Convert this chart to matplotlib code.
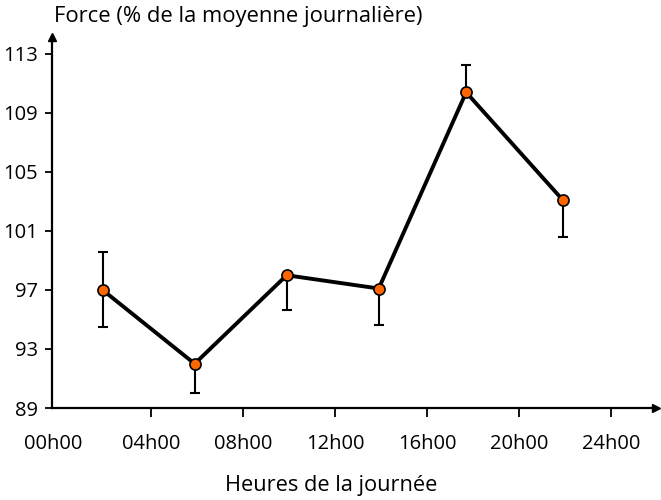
import numpy as np
import matplotlib.pyplot as plt
from matplotlib.transforms import ScaledTranslation

plt.rcParams['font.family'] = ['Open Sans', 'DejaVu Sans']

# heures de mesure et force (% de la moyenne journaliere)
heures = [1.9, 5.9, 9.9, 13.9, 17.7, 21.9]
force = [97.0, 92.0, 98.0, 97.1, 110.4, 103.1]
err_bas = [2.5, 2.0, 2.35, 2.5, 0.0, 2.5]
err_haut = [2.6, 0.0, 0.0, 0.0, 1.85, 0.0]

x_ticks = [0, 4, 8, 12, 16, 20, 24]
x_labels = ["00h00", "04h00", "08h00", "12h00", "16h00", "20h00", "24h00"]
y_ticks = [89, 93, 97, 101, 105, 109, 113]

fig = plt.figure(figsize=(6.61, 5.0), dpi=100)
ax = fig.add_axes([0.0787, 0.184, 0.914, 0.742])

# barres d'erreur (un seul cote pour la plupart des points)
ax.errorbar(heures, force, yerr=[err_bas, err_haut], fmt="none",
            ecolor="black", elinewidth=1.5, capsize=3.5, capthick=1.5, zorder=2)
ax.plot(heures, force, color="black", lw=2.8, zorder=3)
ax.plot(heures, force, "o", color="#FF6600", markersize=8,
        markeredgecolor="black", markeredgewidth=1.2, zorder=4)

ax.set_xlim(-0.3, 25.96)
ax.set_ylim(89, 114.15)
ax.set_xticks(x_ticks)
ax.set_xticklabels(x_labels)
ax.set_yticks(y_ticks)
ax.tick_params(axis="both", labelsize=14.5, width=1.3, direction="out")
ax.tick_params(axis="x", length=6.5, pad=12)
ax.tick_params(axis="y", length=5, pad=5)

# le 00h00 est place sous l'axe vertical, sans trait de graduation
t0 = ax.xaxis.get_major_ticks()[0]
t0.tick1line.set_visible(False)
t0.label1.set_transform(t0.label1.get_transform()
                        + ScaledTranslation(-6 / 100, 0, fig.dpi_scale_trans))

for s in ["top", "right"]:
    ax.spines[s].set_visible(False)
for s in ["left", "bottom"]:
    ax.spines[s].set_linewidth(1.6)

# fleches au bout des axes
ax.plot(1, 0, ">k", markersize=6, transform=ax.transAxes, clip_on=False)
ax.plot(0, 1, "^k", markersize=6, transform=ax.transAxes, clip_on=False)

fig.text(0.082, 0.956, "Force (% de la moyenne journalière)", fontsize=15.8,
         ha="left", va="baseline")
fig.text(0.501, 0.018, "Heures de la journée", fontsize=15.7,
         ha="center", va="baseline")

fig.savefig("out.png", dpi=100)
